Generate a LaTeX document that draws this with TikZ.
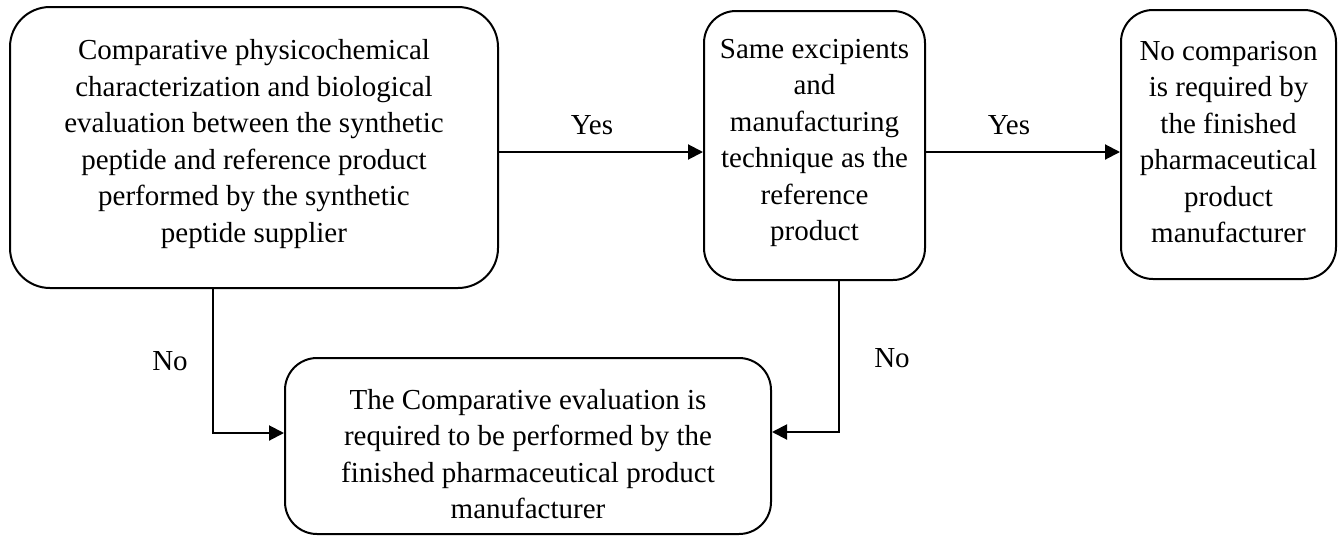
\documentclass[tikz,border=0pt]{standalone}
\usepackage{fontspec}
\setmainfont{Liberation Serif}
\usetikzlibrary{arrows.meta}

\tikzset{
  flowbox/.style={draw, line width=2pt, rounded corners=32pt, align=center, inner sep=0pt,
    font=\fontsize{29}{36.5}\selectfont},
  flowlabel/.style={inner sep=0pt, font=\fontsize{29}{36.5}\selectfont},
  flowarrow/.style={line width=2pt, -{Triangle[length=15pt,width=15pt]}}
}

\begin{document}
\begin{tikzpicture}[x=1pt, y=-1pt]
    \useasboundingbox (0,0) rectangle (1338,536);

    % Boxes
    \node [flowbox, rounded corners=40pt, minimum width=488pt, minimum height=281pt] (supplier) at (254,147.5)
      {Comparative physicochemical\\ characterization and biological\\ evaluation between the synthetic\\
       peptide and reference product\\ performed by the synthetic\\ peptide supplier\rule[-13pt]{0pt}{0pt}};
    \node [flowbox, minimum width=221pt, minimum height=269pt] (sametech) at (814.5,145.5)
      {Same excipients\\ and\\ manufacturing\\ technique as the\\ reference\\ product\rule[-11pt]{0pt}{0pt}};
    \node [flowbox, minimum width=215pt, minimum height=269pt] (nocompare) at (1228.5,144.5)
      {No comparison\\ is required by\\ the finished\\ pharmaceutical\\ product\\ manufacturer\rule[-5pt]{0pt}{0pt}};
    \node [flowbox, minimum width=486pt, minimum height=176pt] (finished) at (528,446)
      {\rule{0pt}{36pt}The Comparative evaluation is\\ required to be performed by the\\
       finished pharmaceutical product\\ manufacturer};

    % Bends
    \coordinate (row) at (0,152);
    \coordinate (leftbend) at (213,433);
    \coordinate (rightbend) at (839,432);

    % Connections
    \draw [flowarrow] (supplier.east |- row) -- (sametech.west |- row);
    \draw [flowarrow] (sametech.east |- row) -- (nocompare.west |- row);
    \draw [flowarrow] (supplier.south -| leftbend) -- (leftbend) -- (finished.west |- leftbend);
    \draw [flowarrow] (sametech.south -| rightbend) -- (rightbend) -- (finished.east |- rightbend);

    % Labels
    \node [flowlabel] (yesone) at (592,125) {Yes};
    \node [flowlabel] (yestwo) at (1009,125) {Yes};
    \node [flowlabel] (noone) at (170,361) {No};
    \node [flowlabel] (notwo) at (892,358) {No};

\end{tikzpicture}
\end{document}
